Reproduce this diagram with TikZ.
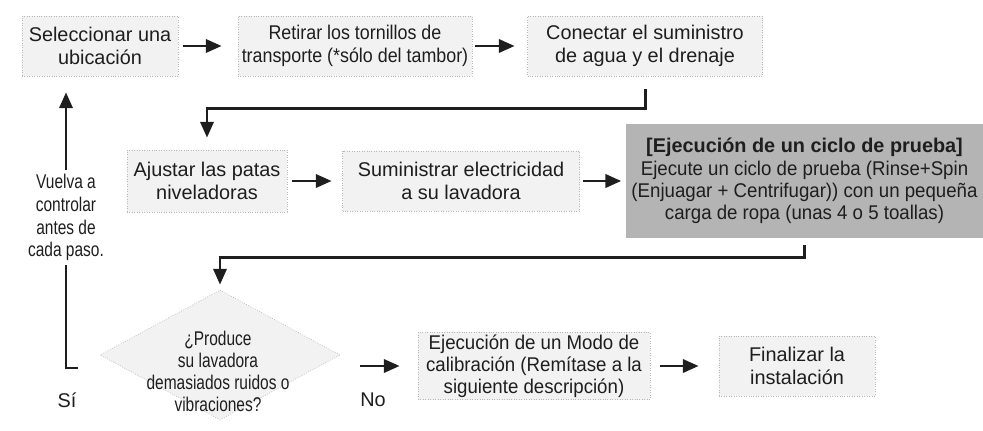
\documentclass[tikz,border=0pt]{standalone}
\usepackage{fontspec}
\setmainfont{Liberation Sans}
\newfontfamily\narrowfont[FakeStretch=0.9]{Liberation Sans}
\newfontfamily\slimfont[FakeStretch=0.94]{Liberation Sans}
\newfontfamily\condfont[FakeStretch=0.78]{Liberation Sans}
\usetikzlibrary{arrows.meta,positioning,shapes.geometric}
\definecolor{ink}{HTML}{1E1E1E}
\definecolor{paleGrey}{HTML}{F2F2F2}
\definecolor{dotGrey}{HTML}{B8B8B8}
\definecolor{midGrey}{HTML}{B4B4B4}

\begin{document}
\begin{tikzpicture}[
  stepbox/.style={rectangle,draw=dotGrey,densely dotted,fill=paleGrey,align=center,inner sep=0.5mm,minimum height=12mm},
  testbox/.style={rectangle,fill=midGrey,align=center,minimum width=71mm,minimum height=22.8mm},
  decision/.style={diamond,draw=dotGrey,densely dotted,fill=paleGrey,minimum width=48mm,minimum height=26mm,inner sep=0pt},
  flow/.style={-{Triangle[length=9pt,width=7.5pt]},draw=ink,line width=1.7pt},
  link/.style={draw=ink,line width=1.7pt},
  every node/.style={font=\fontsize{11.3}{13}\selectfont,text=ink}
]
  \useasboundingbox (0,0) rectangle (19.66,8.6);

  % first row
  \node[stepbox,minimum width=31.2mm] (b1) at (2.0,7.68) {Seleccionar una\\ubicación};
  \node[stepbox,minimum width=46.8mm,font=\fontsize{11.3}{13}\narrowfont] (b2) at (7.1,7.68) {Retirar los tornillos de\\transporte (*sólo del tambor)};
  \node[stepbox,minimum width=47mm] (b3) at (12.9,7.68) {Conectar el suministro\\de agua y el drenaje};

  % second row
  \node[stepbox,minimum width=32mm,minimum height=12.4mm] (b4) at (4.14,4.98) {Ajustar las patas\\niveladoras};
  \node[stepbox,minimum width=47.4mm] (b5) at (9.22,4.98) {Suministrar electricidad\\a su lavadora};
  \node[testbox,font=\fontsize{11.3}{12.7}\slimfont] (b6) at (16.09,4.98) {{\normalfont\bfseries [Ejecución de un ciclo de prueba]}\\Ejecute un ciclo de prueba (Rinse+Spin\\(Enjuagar + Centrifugar)) con un pequeña\\carga de ropa (unas 4 o 5 toallas)};

  % third row
  \node[decision] (dia) at (4.4,1.5) {};
  \node[align=center,inner sep=0pt,font=\fontsize{11.3}{12.5}\condfont] (q) at (4.36,1.18) {¿Produce\\su lavadora\\demasiados ruidos o\\vibraciones?};
  \node[stepbox,minimum width=46.4mm,minimum height=12.6mm,font=\fontsize{11.3}{12.4}\slimfont] (b7) at (10.68,1.28) {Ejecución de un Modo de\\calibración (Remítase a la\\siguiente descripción)};
  \node[stepbox,minimum width=31.2mm] (b8) at (15.94,1.28) {Finalizar la\\instalación};

  % loop back
  \node[align=center,inner sep=2pt,font=\fontsize{11.3}{13}\condfont] (back) at (1.32,4.25) {Vuelva a\\controlar\\antes de\\cada paso.};
  \node (yes) at (1.34,0.6) {Sí};
  \node (no) at (7.46,0.6) {No};
  \coordinate (yesend) at (1.56,1.24);

  \draw[flow,shorten <=1mm,shorten >=3.2mm] (b1) -- (b2);
  \draw[flow,shorten <=0.6mm,shorten >=2.5mm] (b2) -- (b3);
  \draw[flow,shorten <=2.6mm,shorten >=2.4mm] (b3.south) -- ++(0,-0.64) -| (b4.north);
  \draw[flow,shorten <=1mm,shorten >=2.1mm] (b4) -- (b5);
  \draw[flow,shorten <=0.7mm,shorten >=0.8mm] (b5) -- (b6);
  \draw[flow,shorten <=1.4mm,shorten >=1mm] (b6.south) -- ++(0,-0.38) -| (dia.north);
  \draw[flow,shorten <=4mm,shorten >=3.6mm] (dia.east |- b7.west) -- (b7.west);
  \draw[flow,shorten <=2mm,shorten >=4mm] (b7) -- (b8);
  \draw[link] (yesend) -| (back.south);
  \draw[flow,shorten >=3.2mm] (back.north) -- (back.north |- b1.south);
\end{tikzpicture}
\end{document}
